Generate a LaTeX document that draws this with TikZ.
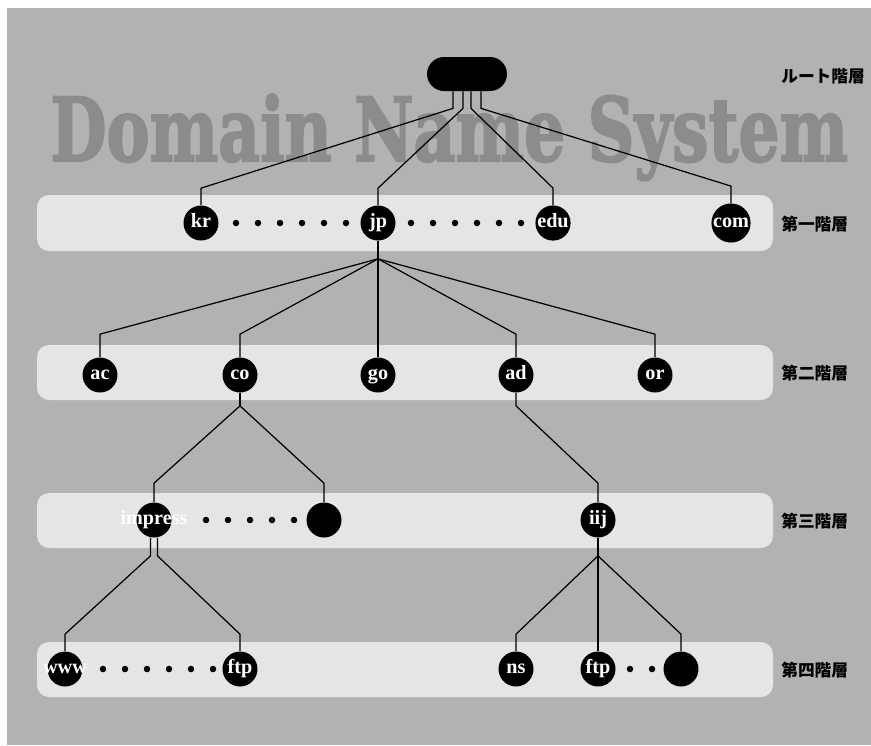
\documentclass[tikz,border=0pt]{standalone}
\usepackage{fontspec}
\setmainfont{Liberation Serif}
\newfontfamily\cjk{Noto Sans CJK JP}
\newfontfamily\slab{DejaVu Serif}[BoldFeatures={FakeBold=2.5}]
\definecolor{PageGray}{gray}{0.70}
\definecolor{BandGray}{gray}{0.90}
\definecolor{TitleGray}{gray}{0.55}
\tikzset{
    band/.style={fill=BandGray, rounded corners=0.24cm},
    host/.style={circle, fill=black, text=white, inner sep=0pt, minimum size=0.7cm, text height=7pt, text depth=2pt, font=\fontsize{11.5}{11.5}\selectfont\bfseries},
    blank/.style={circle, fill=black, inner sep=0pt, minimum size=0.7cm},
    dot/.style={circle, fill=black, inner sep=0pt, minimum size=0.13cm},
    tier/.style={anchor=west, inner sep=0pt, font=\cjk\bfseries\fontsize{9.5}{9.5}\selectfont},
    link/.style={draw=black, line width=0.7pt}
}

\begin{document}
\begin{tikzpicture}[x=0.02cm, y=-0.02cm]
    \useasboundingbox (0,0) rectangle (871,745);
    \fill[white] (0,0) rectangle (871,745);
    \fill[PageGray] (7,8) rectangle (871,745);

    % background title
    \node[anchor=base west, inner sep=0pt, text=TitleGray] (title) at (50,161) {\resizebox{15.96cm}{1.34cm}{\slab\bfseries Domain Name System}};

    % layer bands
    \fill[band] (37,195) rectangle (773,251);
    \fill[band] (37,345) rectangle (773,400);
    \fill[band] (37,493) rectangle (773,548);
    \fill[band] (37,642) rectangle (773,697);

    % root
    \node[fill=black, rounded corners=0.34cm, minimum width=1.6cm, minimum height=0.68cm, inner sep=0pt] (root) at (467,74) {};

    % first level
    \node[host] (kr) at (201,223) {kr};
    \node[host] (jp) at (378,223) {jp};
    \node[host] (edu) at (553,223) {edu};
    \node[host] (com) at (731,223) {com};

    % second level
    \node[host] (ac) at (100,375) {ac};
    \node[host] (co) at (240,375) {co};
    \node[host] (go) at (378,375) {go};
    \node[host] (ad) at (516,375) {ad};
    \node[host] (or) at (655,375) {or};

    % third level
    \node[host] (impress) at (154,520) {\makebox[0pt]{impress}};
    \node[blank] (cox) at (324,520) {};
    \node[host] (iij) at (598,520) {iij};

    % fourth level
    \node[host] (www) at (65,669) {\makebox[0pt]{www}};
    \node[host] (ftpa) at (240,669) {ftp};
    \node[host] (ns) at (516,669) {ns};
    \node[host] (ftpb) at (598,669) {ftp};
    \node[blank] (iijx) at (681,669) {};

    % root -> first level
    \draw[link] ([xshift=-0.28cm]root.south) -- ++(0,17) -- ([yshift=0.34cm]kr.north) -- (kr.north);
    \draw[link] ([xshift=-0.08cm]root.south) -- ++(0,17) -- ([yshift=0.34cm]jp.north) -- (jp.north);
    \draw[link] ([xshift=0.08cm]root.south) -- ++(0,17) -- ([yshift=0.34cm]edu.north) -- (edu.north);
    \draw[link] ([xshift=0.28cm]root.south) -- ++(0,17) -- ([yshift=0.34cm]com.north) -- (com.north);

    % jp -> second level
    \coordinate (jpfan) at ([yshift=-0.36cm]jp.south);
    \draw[link] (jp.south) -- (jpfan);
    \foreach \c in {ac,co,go,ad,or}
        \draw[link] (jpfan) -- ([yshift=0.46cm]\c.north) -- (\c.north);

    % co, ad -> third level
    \coordinate (cofan) at ([yshift=-0.26cm]co.south);
    \draw[link] (co.south) -- (cofan);
    \draw[link] (cofan) -- ([yshift=0.38cm]impress.north) -- (impress.north);
    \draw[link] (cofan) -- ([yshift=0.38cm]cox.north) -- (cox.north);
    \draw[link] (ad.south) -- ([yshift=-0.26cm]ad.south) -- ([yshift=0.38cm]iij.north) -- (iij.north);

    % impress, iij -> fourth level
    \draw[link] ([xshift=-0.07cm]impress.south) -- ++(0,18) -- ([yshift=0.34cm]www.north) -- (www.north);
    \draw[link] ([xshift=0.07cm]impress.south) -- ++(0,18) -- ([yshift=0.34cm]ftpa.north) -- (ftpa.north);
    \coordinate (iijfan) at ([yshift=-0.36cm]iij.south);
    \draw[link] (iij.south) -- (iijfan);
    \foreach \c in {ns,ftpb,iijx}
        \draw[link] (iijfan) -- ([yshift=0.34cm]\c.north) -- (\c.north);

    % dots between siblings
    \foreach \x in {236,258,...,346} \node[dot] (ka\x) at (\x,223) {};
    \foreach \x in {411,433,...,521} \node[dot] (kb\x) at (\x,223) {};
    \foreach \x in {206,228,...,294} \node[dot] (ia\x) at (\x,520) {};
    \foreach \x in {103,125,...,213} \node[dot] (wa\x) at (\x,669) {};
    \foreach \x in {630,652} \node[dot] (fa\x) at (\x,669) {};

    % tier labels
    \node[tier] (t0) at (781,76) {ルート階層};
    \node[tier] (t1) at (781,224) {第一階層};
    \node[tier] (t2) at (781,373) {第二階層};
    \node[tier] (t3) at (781,521) {第三階層};
    \node[tier] (t4) at (781,670) {第四階層};
\end{tikzpicture}
\end{document}
